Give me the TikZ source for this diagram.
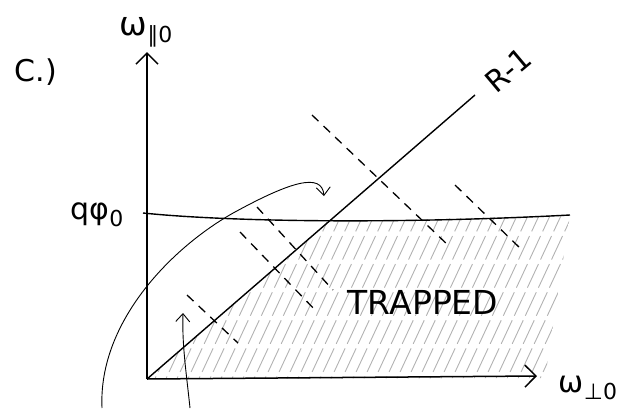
\documentclass[tikz,border=0pt]{standalone}
\usepackage{fontspec}
\newfontfamily\handfont{DejaVu Sans}
\usetikzlibrary{arrows.meta,positioning}

\newcommand{\lowsub}[1]{\raisebox{-7pt}{\fontsize{22}{24}\selectfont #1}}

\begin{document}
\begin{tikzpicture}[
  x=1pt, y=-1pt,
  axis/.style={line width=1.5pt,-{Straight Barb[length=11pt,width=22pt]}},
  guide/.style={line width=1.4pt},
  perp/.style={line width=1.3pt,dash pattern=on 9pt off 7pt},
  hatch/.style={gray!60,line width=0.9pt,dash pattern=on 26pt off 5pt},
  swoop/.style={line width=0.9pt,-{Straight Barb[length=8pt,width=14pt]}},
  lbl/.style={inner sep=0pt,font=\handfont\fontsize{30}{34}\selectfont}
]
  \useasboundingbox (0,0) rectangle (627,408);

  \coordinate (O) at (147,379);
  \coordinate (Ytop) at (147,52);
  \coordinate (Xend) at (537,376);
  \coordinate (Hl) at (143,213);
  \coordinate (Hm) at (327,222);
  \coordinate (Hr) at (570,215);
  \coordinate (Rend) at (475,95);

  % trapped region
  \begin{scope}
    \clip (O) -- (Hm) -- (Hr) -- (545,378) -- cycle;
    \foreach \i in {-130,-119,...,570}
      \draw[hatch] (\i,400) -- ++(210,-450);
  \end{scope}

  \draw[axis] (O) -- (Ytop);
  \draw[axis] (O) -- (Xend);
  \draw[guide] (Hl) .. controls (230,222) and (400,224) .. (Hr);
  \draw[guide] (O) -- (Rend);

  \foreach \xa/\ya/\xb/\yb in {187/295/238/343, 240/232/317/312,
      257/207/333/290, 312/115/450/247, 455/185/522/250}
    \draw[perp] (\xa,\ya) -- (\xb,\yb);

  \coordinate (s1) at (102,408);
  \coordinate (t1) at (324,196);
  \coordinate (s2) at (190,408);
  \coordinate (t2) at (183,313);
  \draw[swoop] (s1) .. controls (98,320) and (175,245) .. (235,212)
    .. controls (290,182) and (322,172) .. (t1);
  \draw[swoop] (s2) .. controls (186,370) and (182,345) .. (t2);

  \node[lbl] (part) at (36,72) {C.)};
  \node[lbl,font=\handfont\fontsize{33}{36}\selectfont] (ypar) at (146,32) {ω\lowsub{∥0}};
  \node[lbl] (qphi) at (97,215) {qφ\lowsub{0}};
  \node[lbl,rotate=40] (ratio) at (508,70) {R-1};
  \node[lbl,font=\handfont\fontsize{33}{36}\selectfont] (trap) at (423,302) {TRAPPED};
  \node[lbl] (xperp) at (588,388) {ω\lowsub{⊥0}};
\end{tikzpicture}
\end{document}
